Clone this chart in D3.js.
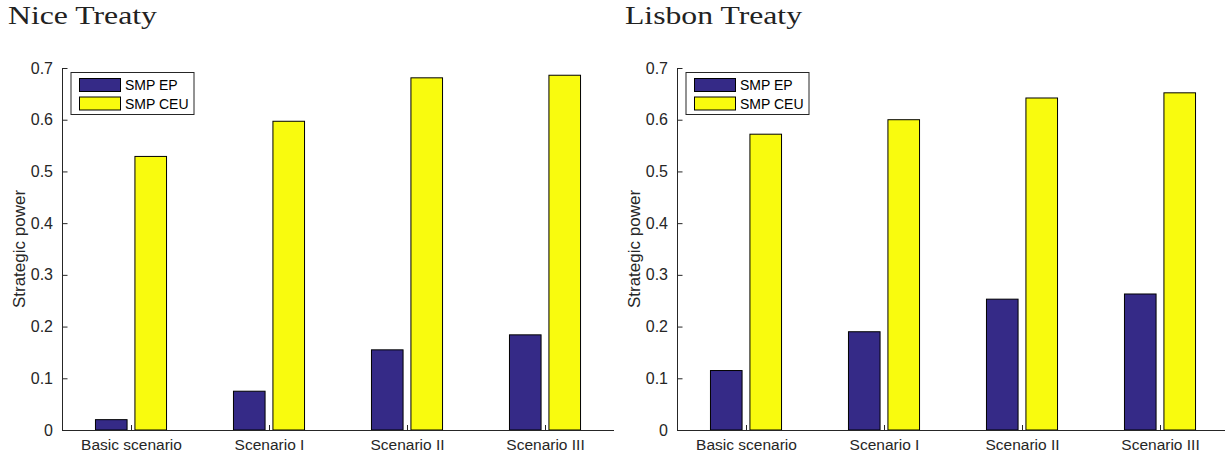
<!DOCTYPE html>
<html>
<head>
<meta charset="utf-8">
<script src="https://cdn.jsdelivr.net/npm/d3@7"></script>
<style>
  body { margin: 0; background: #fff; }
  svg { display: block; }
</style>
</head>
<body>
<div id="chart"></div>
<script>
// Data
const categories = ['Basic scenario', 'Scenario I', 'Scenario II', 'Scenario III'];
const seriesNames = ['SMP EP', 'SMP CEU'];
const niceEP = [0.020, 0.075, 0.155, 0.184];
const niceCEU = [0.529, 0.597, 0.681, 0.686];
const lisbonEP = [0.115, 0.190, 0.253, 0.263];
const lisbonCEU = [0.572, 0.600, 0.642, 0.652];
const yTicks = [0, 0.1, 0.2, 0.3, 0.4, 0.5, 0.6, 0.7];

const panels = [
    { title: 'Nice Treaty', ep: niceEP, ceu: niceCEU, left: 62, titleX: 8, titleW: 149 },
    { title: 'Lisbon Treaty', ep: lisbonEP, ceu: lisbonCEU, left: 677, titleX: 625, titleW: 177 }
];

const width = 1225;
const height = 457;
const colors = ['#352a87', '#f9fb0e'];
const axisColor = '#262626';
const font = 'Liberation Sans, Arial, Helvetica, sans-serif';

const svg = d3.select('#chart')
    .append('svg')
    .attr('width', width)
    .attr('height', height);

// shared y scale (0 at 430, 0.7 at 68)
const y = d3.scaleLinear().domain([0, 0.7]).range([430, 68]);

panels.forEach(p => {
    const g = svg.append('g');

    // x positions: matlab-like xlim [0.5, 4.5]
    const x = d3.scaleLinear().domain([0.5, 4.5]).range([p.left, p.left + 552]);
    const barW = (x(1.229) - x(1));
    const off = x(1.143) - x(1);

    // title
    g.append('text')
        .attr('x', p.titleX)
        .attr('y', 24)
        .attr('textLength', p.titleW)
        .attr('lengthAdjust', 'spacingAndGlyphs')
        .style('font-family', 'Liberation Serif, Times New Roman, serif')
        .style('font-size', '26px')
        .style('fill', '#222')
        .text(p.title);

    // bars
    const rows = categories.map((c, i) => ({ i: i + 1, ep: p.ep[i], ceu: p.ceu[i] }));
    [['ep', -off, colors[0]], ['ceu', off, colors[1]]].forEach(([key, dx, col]) => {
        g.append('g')
            .selectAll('rect')
            .data(rows)
            .enter()
            .append('rect')
            .attr('x', d => x(d.i) + dx - barW / 2)
            .attr('y', d => y(d[key]))
            .attr('width', barW)
            .attr('height', d => y(0) - y(d[key]))
            .style('fill', col)
            .style('stroke', '#000')
            .style('stroke-width', 1);
    });

    // y axis, ticks drawn inward
    const yAxis = d3.axisLeft(y)
        .tickValues(yTicks)
        .tickSize(-5)
        .tickPadding(9)
        .tickFormat(d => d === 0 ? '0' : d3.format('.1f')(d));
    const ya = g.append('g')
        .attr('transform', `translate(${p.left},0)`)
        .call(yAxis);
    ya.select('.domain').remove();
    ya.append('line')
        .attr('x1', 0.5).attr('x2', 0.5)
        .attr('y1', y(0.7)).attr('y2', y(0))
        .style('stroke', axisColor);
    ya.selectAll('.tick line').attr('transform', 'translate(0.5,0)').style('stroke', axisColor);
    ya.selectAll('.tick text')
        .style('font-family', font)
        .style('font-size', '16px')
        .style('fill', axisColor);

    // x axis, ticks drawn inward
    const xAxis = d3.axisBottom(x)
        .tickValues([1, 2, 3, 4])
        .tickSize(-5)
        .tickPadding(9)
        .tickFormat(d => categories[d - 1]);
    const xa = g.append('g')
        .attr('transform', `translate(0,${y(0)})`)
        .call(xAxis);
    xa.select('.domain').remove();
    xa.append('line')
        .attr('x1', x(0.5)).attr('x2', x(4.5))
        .attr('y1', 0.5).attr('y2', 0.5)
        .style('stroke', axisColor);
    xa.selectAll('.tick line').style('stroke', axisColor);
    xa.selectAll('.tick text')
        .style('font-family', font)
        .style('font-size', '15.5px')
        .style('fill', axisColor);

    // y label
    g.append('text')
        .attr('transform', `translate(${p.left - 37},${(y(0) + y(0.7)) / 2}) rotate(-90)`)
        .attr('text-anchor', 'middle')
        .style('font-family', font)
        .style('font-size', '17px')
        .style('fill', axisColor)
        .text('Strategic power');

    // legend
    const lx = p.left + 9, ly = 72.5;
    const leg = g.append('g').attr('transform', `translate(${lx},${ly})`);
    leg.append('rect')
        .attr('x', 0).attr('y', 0)
        .attr('width', 123).attr('height', 42)
        .style('fill', '#fff')
        .style('stroke', axisColor)
        .style('stroke-width', 1);
    seriesNames.forEach((name, i) => {
        leg.append('rect')
            .attr('x', 8.5).attr('y', 6 + i * 18.5)
            .attr('width', 41).attr('height', 13)
            .style('fill', colors[i])
            .style('stroke', '#000');
        leg.append('text')
            .attr('x', 54).attr('y', 17.5 + i * 18.5)
            .style('font-family', font)
            .style('font-size', '14px')
            .style('fill', '#000')
            .text(name);
    });
});
</script>
</body>
</html>
